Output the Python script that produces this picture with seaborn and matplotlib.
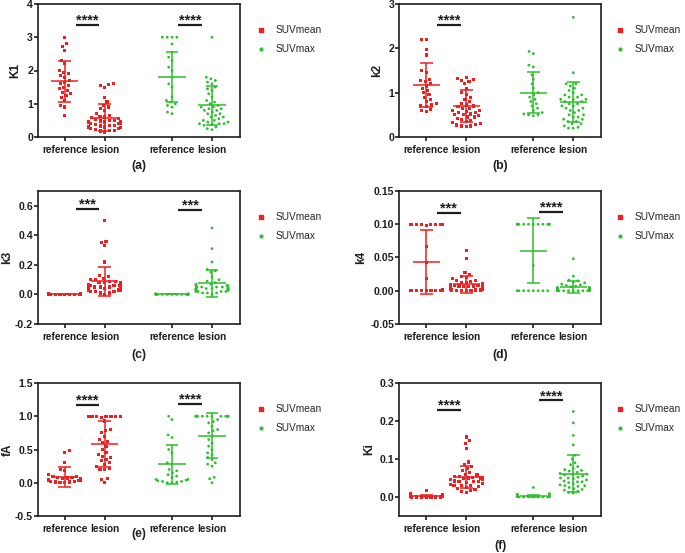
"""Kinetic parameter scatter plots (reference vs lesion, SUVmean vs SUVmax)."""

import warnings

import matplotlib
matplotlib.use("Agg")
import matplotlib.pyplot as plt
from matplotlib.lines import Line2D
import pandas as pd
import seaborn as sns

warnings.filterwarnings("ignore")

RED = "#f01e1e"
GREEN = "#2dbf2d"
INK = "#1e1e1e"

GROUP_LABELS = ["reference", "lesion", "reference", "lesion"]
SERIES = ["SUVmean", "SUVmean", "SUVmax", "SUVmax"]
POSITIONS = [0.0, 1.0, 2.68, 3.68]

# ---- K1 ----
K1_REF_MEAN = [3.0, 2.8, 2.72, 2.6, 2.3, 2.2, 2.0, 1.95, 1.9, 1.85, 1.8, 1.7, 1.65,
               1.6, 1.55, 1.5, 1.45, 1.4, 1.35, 1.3, 1.25, 1.2, 1.1, 0.95, 0.9, 0.65]
K1_LES_MEAN = [1.6, 1.58, 1.55, 1.5, 1.2, 1.05, 0.95, 0.9, 0.85, 0.8, 0.7, 0.65, 0.62,
               0.6, 0.58, 0.55, 0.52, 0.5, 0.5, 0.48, 0.45, 0.45, 0.42, 0.4, 0.4, 0.38,
               0.35, 0.33, 0.3, 0.3, 0.28, 0.25, 0.22, 0.2, 0.2, 0.18, 0.15, 0.25, 0.35, 0.45]
K1_REF_MAX = [3.0, 3.0, 3.0, 3.0, 2.8, 2.55, 2.4, 2.3, 2.1, 2.0, 1.8, 1.6, 1.5, 1.2,
              1.1, 1.05, 1.0, 0.95, 0.9, 0.75, 0.7]
K1_LES_MAX = [3.0, 1.8, 1.75, 1.7, 1.65, 1.6, 1.5, 1.45, 1.4, 1.3, 1.2, 1.1, 1.05, 1.0,
              0.95, 0.9, 0.85, 0.8, 0.8, 0.75, 0.7, 0.7, 0.65, 0.6, 0.6, 0.55, 0.5, 0.5,
              0.45, 0.45, 0.4, 0.4, 0.4, 0.38, 0.35, 0.3, 0.25, 0.22, 0.9, 0.85]
K1_MEANS = [1.67, 0.58, 1.81, 0.95]
K1_SDS = [0.615, 0.40, 0.75, 0.58]

# ---- k2 ----
K2_REF_MEAN = [2.2, 2.2, 1.97, 1.85, 1.5, 1.45, 1.3, 1.28, 1.25, 1.2, 1.15, 1.1, 1.05,
               1.0, 0.95, 0.9, 0.85, 0.8, 0.75, 0.72, 0.7, 0.68, 0.62, 0.6, 0.57]
K2_LES_MEAN = [1.35, 1.32, 1.3, 1.28, 1.25, 1.2, 1.1, 1.0, 0.95, 0.9, 0.85, 0.8, 0.75,
               0.72, 0.7, 0.68, 0.65, 0.6, 0.58, 0.55, 0.55, 0.52, 0.5, 0.5, 0.48, 0.45,
               0.42, 0.4, 0.38, 0.35, 0.32, 0.3, 0.28, 0.27, 0.25, 0.25, 0.23, 0.6, 0.65, 0.45]
K2_REF_MAX = [1.93, 1.88, 1.62, 1.58, 1.4, 1.3, 1.2, 1.1, 1.0, 0.95, 0.9, 0.85, 0.8,
              0.75, 0.7, 0.65, 0.6, 0.55, 0.52, 0.5, 0.5, 0.48]
K2_LES_MAX = [2.7, 1.45, 1.2, 1.15, 1.1, 1.05, 1.0, 0.95, 0.9, 0.9, 0.85, 0.85, 0.8, 0.8,
              0.75, 0.75, 0.7, 0.7, 0.65, 0.65, 0.6, 0.6, 0.55, 0.5, 0.5, 0.45, 0.45, 0.4,
              0.4, 0.35, 0.35, 0.3, 0.3, 0.25, 0.22, 0.2, 0.2, 0.85, 0.95, 1.2]
K2_MEANS = [1.18, 0.69, 1.0, 0.78]
K2_SDS = [0.50, 0.36, 0.46, 0.45]

# ---- k3 ----
K3_REF_MEAN = [0.0, 0.0, 0.001, 0.001, 0.002, 0.002, 0.003, 0.003, 0.004, 0.004, 0.005,
               0.005, 0.006, 0.002, 0.001, 0.0, 0.003, 0.002, 0.004, 0.001, 0.0, 0.002,
               0.003, 0.005, 0.007]
K3_LES_MEAN = [0.5, 0.36, 0.35, 0.33, 0.22, 0.13, 0.12, 0.11, 0.1, 0.1, 0.09, 0.09, 0.08,
               0.08, 0.07, 0.07, 0.06, 0.06, 0.06, 0.05, 0.05, 0.05, 0.05, 0.04, 0.04, 0.04,
               0.04, 0.03, 0.03, 0.03, 0.03, 0.02, 0.02, 0.02, 0.01, 0.01, 0.0, 0.08, 0.06, 0.04]
K3_REF_MAX = [0.0, 0.0, 0.0, 0.001, 0.001, 0.001, 0.002, 0.002, 0.0, 0.001, 0.003, 0.0,
              0.002, 0.001, 0.0, 0.003, 0.002, 0.0, 0.001, 0.004, 0.0, 0.002]
K3_LES_MAX = [0.45, 0.31, 0.22, 0.17, 0.16, 0.15, 0.12, 0.1, 0.09, 0.08, 0.07, 0.07, 0.06,
              0.06, 0.05, 0.05, 0.05, 0.05, 0.04, 0.04, 0.04, 0.04, 0.04, 0.03, 0.03, 0.03,
              0.03, 0.03, 0.02, 0.02, 0.02, 0.02, 0.01, 0.01, 0.01, 0.0, 0.05, 0.06, 0.03, 0.04]
K3_MEANS = [0.002, 0.088, 0.001, 0.075]
K3_SDS = [0.002, 0.10, 0.001, 0.09]

# ---- k4 ----
K4_REF_MEAN = [0.1, 0.1, 0.1, 0.1, 0.1, 0.1, 0.1, 0.1, 0.1, 0.1, 0.098, 0.067, 0.042,
               0.019, 0.002, 0.0, 0.0, 0.0, 0.0, 0.0, 0.0, 0.0, 0.0, 0.0, 0.0, 0.0, 0.0]
K4_LES_MEAN = [0.06, 0.048, 0.028, 0.025, 0.022, 0.02, 0.018, 0.016, 0.015, 0.014, 0.013,
               0.012, 0.011, 0.01, 0.01, 0.009, 0.008, 0.008, 0.007, 0.006, 0.006, 0.005,
               0.005, 0.004, 0.004, 0.003, 0.003, 0.002, 0.002, 0.002, 0.001, 0.001, 0.001,
               0.0, 0.0, 0.0, 0.0, 0.003, 0.005, 0.007]
K4_REF_MAX = [0.1, 0.1, 0.1, 0.1, 0.1, 0.1, 0.1, 0.1, 0.1, 0.1, 0.1, 0.1, 0.038,
              0.0, 0.0, 0.0, 0.0, 0.0, 0.0, 0.0, 0.0]
K4_LES_MAX = [0.048, 0.022, 0.016, 0.015, 0.013, 0.012, 0.01, 0.009, 0.008, 0.007, 0.006,
              0.005, 0.005, 0.004, 0.004, 0.003, 0.003, 0.002, 0.002, 0.002, 0.001, 0.001,
              0.001, 0.0, 0.0, 0.0, 0.0, 0.0, 0.0, 0.0, 0.0, 0.0, 0.0, 0.001, 0.002, 0.003,
              0.004, 0.0, 0.0, 0.0]
K4_MEANS = [0.043, 0.0095, 0.060, 0.005]
K4_SDS = [0.048, 0.013, 0.049, 0.009]

# ---- fA ----
FA_REF_MEAN = [0.48, 0.45, 0.3, 0.2, 0.18, 0.12, 0.1, 0.09, 0.08, 0.08, 0.07, 0.06, 0.06,
               0.05, 0.05, 0.04, 0.04, 0.03, 0.03, 0.02, 0.02, 0.01, 0.01, 0.0, 0.0]
FA_LES_MEAN = [1.0, 1.0, 1.0, 1.0, 1.0, 1.0, 1.0, 1.0, 1.0, 1.0, 1.0, 1.0, 0.98, 0.93,
               0.8, 0.78, 0.75, 0.7, 0.65, 0.62, 0.6, 0.55, 0.5, 0.45, 0.42, 0.4, 0.38,
               0.35, 0.33, 0.3, 0.28, 0.25, 0.22, 0.2, 0.2, 0.06, 0.05, 0.0]
FA_REF_MAX = [1.0, 0.95, 0.72, 0.68, 0.5, 0.45, 0.3, 0.28, 0.2, 0.18, 0.15, 0.12, 0.1,
              0.08, 0.05, 0.05, 0.04, 0.03, 0.02, 0.02, 0.01, 0.0, 0.0]
FA_LES_MAX = [1.0, 1.0, 1.0, 1.0, 1.0, 1.0, 1.0, 1.0, 1.0, 1.0, 1.0, 1.0, 0.95, 0.92,
              0.9, 0.85, 0.8, 0.78, 0.75, 0.7, 0.65, 0.6, 0.55, 0.5, 0.45, 0.42, 0.38,
              0.35, 0.3, 0.28, 0.25, 0.08, 0.06, 0.0]
FA_MEANS = [0.085, 0.58, 0.276, 0.71]
FA_SDS = [0.145, 0.35, 0.295, 0.345]

# ---- Ki ----
KI_REF_MEAN = [0.017, 0.008, 0.006, 0.005, 0.004, 0.004, 0.003, 0.003, 0.003, 0.002,
               0.002, 0.002, 0.002, 0.001, 0.001, 0.001, 0.001, 0.001, 0.0, 0.0, 0.0,
               0.0, 0.0, 0.0, 0.0]
KI_LES_MEAN = [0.158, 0.148, 0.14, 0.128, 0.092, 0.085, 0.08, 0.075, 0.07, 0.065, 0.06,
               0.058, 0.055, 0.052, 0.05, 0.05, 0.048, 0.045, 0.045, 0.042, 0.04, 0.04,
               0.038, 0.035, 0.035, 0.033, 0.03, 0.03, 0.028, 0.025, 0.022, 0.02, 0.018,
               0.015, 0.012, 0.045, 0.05, 0.04, 0.03, 0.055]
KI_REF_MAX = [0.025, 0.009, 0.007, 0.006, 0.005, 0.004, 0.003, 0.003, 0.002, 0.002,
              0.002, 0.001, 0.001, 0.001, 0.001, 0.0, 0.0, 0.0, 0.0, 0.0, 0.0, 0.0]
KI_LES_MAX = [0.225, 0.195, 0.162, 0.137, 0.11, 0.1, 0.09, 0.085, 0.08, 0.075, 0.072,
              0.07, 0.068, 0.065, 0.062, 0.06, 0.058, 0.055, 0.052, 0.05, 0.048, 0.045,
              0.042, 0.04, 0.038, 0.035, 0.032, 0.03, 0.028, 0.025, 0.022, 0.02, 0.018,
              0.015, 0.012, 0.01, 0.06, 0.05, 0.04, 0.03]
KI_MEANS = [0.002, 0.0526, 0.002, 0.061]
KI_SDS = [0.003, 0.030, 0.003, 0.049]

PANELS = [
    dict(name="K1", groups=[K1_REF_MEAN, K1_LES_MEAN, K1_REF_MAX, K1_LES_MAX],
         means=K1_MEANS, sds=K1_SDS, ylim=(0, 4), yticks=[0, 1, 2, 3, 4], fmt="{:.0f}",
         sig=[(0, 3.37, "****"), (1, 3.37, "****")], letter="(a)", letter_gap=29,
         label_x=-23),
    dict(name="k2", groups=[K2_REF_MEAN, K2_LES_MEAN, K2_REF_MAX, K2_LES_MAX],
         means=K2_MEANS, sds=K2_SDS, ylim=(0, 3), yticks=[0, 1, 2, 3], fmt="{:.0f}",
         sig=[(0, 2.53, "****")], letter="(b)", letter_gap=29, label_x=-22),
    dict(name="k3", groups=[K3_REF_MEAN, K3_LES_MEAN, K3_REF_MAX, K3_LES_MAX],
         means=K3_MEANS, sds=K3_SDS, ylim=(-0.2, 0.7), yticks=[-0.2, 0.0, 0.2, 0.4, 0.6],
         fmt="{:.1f}", sig=[(0, 0.58, "***"), (1, 0.573, "***")], letter="(c)",
         letter_gap=31, label_x=-31.5),
    dict(name="k4", groups=[K4_REF_MEAN, K4_LES_MEAN, K4_REF_MAX, K4_LES_MAX],
         means=K4_MEANS, sds=K4_SDS, ylim=(-0.05, 0.15),
         yticks=[-0.05, 0.0, 0.05, 0.10, 0.15], fmt="{:.2f}",
         sig=[(0, 0.1165, "***"), (1, 0.118, "****")], letter="(d)", letter_gap=31,
         label_x=-38.5),
    dict(name="fA", groups=[FA_REF_MEAN, FA_LES_MEAN, FA_REF_MAX, FA_LES_MAX],
         means=FA_MEANS, sds=FA_SDS, ylim=(-0.5, 1.5), yticks=[-0.5, 0.0, 0.5, 1.0, 1.5],
         fmt="{:.1f}", sig=[(0, 1.17, "****"), (1, 1.19, "****")], letter="(e)",
         letter_gap=18, label_x=-30.5),
    dict(name="Ki", groups=[KI_REF_MEAN, KI_LES_MEAN, KI_REF_MAX, KI_LES_MAX],
         means=KI_MEANS, sds=KI_SDS, ylim=(-0.05, 0.3), yticks=[0.0, 0.1, 0.2, 0.3],
         fmt="{:.1f}", sig=[(0, 0.23, "****"), (1, 0.254, "****")], letter="(f)",
         letter_gap=30, label_x=-30.3),
]

FIG_W, FIG_H = 685, 553
COL_LEFT = [38, 399.3]
COL_WIDTH = 202
ROW_TOP = [4, 191, 383]
AX_HEIGHT = 133
SIG_SPAN = [(0.28, 0.86), (0.15, 0.75)]
LEGEND_X = [1.082, 1.071]


def build_frame(groups):
    rows = []
    for pos, series, values in zip(POSITIONS, SERIES, groups):
        for v in values:
            rows.append({"pos": pos, "value": v, "series": series})
    return pd.DataFrame(rows)


def draw_panel(ax, panel, col):
    df = build_frame(panel["groups"])
    sns.swarmplot(data=df[df["series"] == "SUVmean"], x="pos", y="value", orient="x",
                  native_scale=True, color=RED, marker="s", size=2.3, linewidth=1.0,
                  edgecolor="none", ax=ax, zorder=2)
    sns.swarmplot(data=df[df["series"] == "SUVmax"], x="pos", y="value", orient="x",
                  native_scale=True, color=GREEN, marker="o", size=2.0, linewidth=1.3,
                  edgecolor="none", ax=ax, zorder=2)

    colors = [RED, RED, GREEN, GREEN]
    for pos, m, s, c in zip(POSITIONS, panel["means"], panel["sds"], colors):
        ax.hlines(m, pos - 0.34, pos + 0.34, color=c, lw=1.1, zorder=3)
        ax.vlines(pos, m - s, m + s, color=c, lw=1.1, zorder=3)
        ax.hlines([m - s, m + s], pos - 0.16, pos + 0.16, color=c, lw=1.1, zorder=3)

    for pair, y, label in panel["sig"]:
        base = POSITIONS[2 * pair]
        x0, x1 = base + SIG_SPAN[pair][0], base + SIG_SPAN[pair][1]
        ax.hlines(y, x0, x1, color=INK, lw=1.6, zorder=4)
        ax.annotate(label, ((x0 + x1) / 2, y), xytext=(0, 0.3), textcoords="offset points",
                    ha="center", va="baseline", fontsize=10.5, fontweight="bold", color=INK)

    ax.set_xlim(-0.67, 4.38)
    ax.set_ylim(*panel["ylim"])
    ax.set_xticks(POSITIONS)
    ax.set_xticklabels(GROUP_LABELS, fontsize=7.3, fontweight="bold", color=INK)
    ax.set_yticks(panel["yticks"])
    ax.set_yticklabels([panel["fmt"].format(t) for t in panel["yticks"]],
                       fontsize=7.6, fontweight="bold", color=INK)
    ax.set_xlabel("")
    ax.set_ylabel(panel["name"], fontsize=8.5, fontweight="bold", color=INK)
    # label centre in pixels left of the axis; ylabel anchor is its right edge
    ax.yaxis.set_label_coords((panel["label_x"] + 6.3) / COL_WIDTH, 0.5)
    ax.tick_params(length=2.6, width=1.2, color=INK)
    ax.tick_params(axis="y", pad=1)
    ax.tick_params(axis="x", pad=3)
    for spine in ax.spines.values():
        spine.set_color(INK)
        spine.set_linewidth(1.2)
        spine.set_visible(True)
    ax.grid(False)

    ax.text(0.5, -panel["letter_gap"] / AX_HEIGHT, panel["letter"], transform=ax.transAxes,
            ha="center", va="center", fontsize=8.8, fontweight="bold", color=INK)

    handles = [
        Line2D([], [], ls="", marker="s", color=RED, markersize=2.4),
        Line2D([], [], ls="", marker="o", color=GREEN, markersize=2.0),
    ]
    ax.legend(handles, ["SUVmean", "SUVmax"], loc="upper left",
              bbox_to_anchor=(LEGEND_X[col], 0.84), frameon=False, fontsize=7.3,
              handlelength=0.8, handletextpad=1.1, labelspacing=0.9,
              borderaxespad=0, borderpad=0)


def main():
    sns.set_style("ticks")
    plt.rcParams["font.family"] = ["Liberation Sans", "DejaVu Sans"]

    fig = plt.figure(figsize=(FIG_W / 100, FIG_H / 100), dpi=100)
    for i, panel in enumerate(PANELS):
        row, col = divmod(i, 2)
        rect = [COL_LEFT[col] / FIG_W, 1 - (ROW_TOP[row] + AX_HEIGHT) / FIG_H,
                COL_WIDTH / FIG_W, AX_HEIGHT / FIG_H]
        ax = fig.add_axes(rect)
        draw_panel(ax, panel, col)

    fig.savefig("out.png", dpi=100, facecolor="white")
    plt.close(fig)


if __name__ == "__main__":
    main()
